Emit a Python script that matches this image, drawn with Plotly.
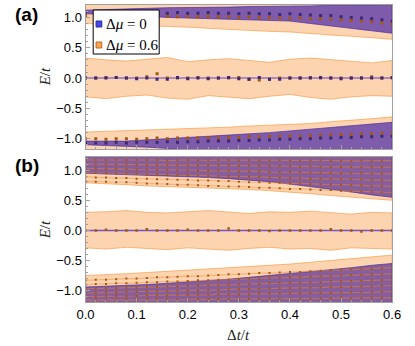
import plotly.graph_objects as go
from plotly.subplots import make_subplots

# sample grid (dots) and band grid
X = [0.00, 0.02, 0.04, 0.06, 0.08, 0.10, 0.12, 0.14, 0.16, 0.18, 0.20, 0.22, 0.24, 0.26, 0.28, 0.30,
     0.32, 0.34, 0.36, 0.38, 0.40, 0.42, 0.44, 0.46, 0.48, 0.50, 0.52, 0.54, 0.56, 0.58, 0.60]
XB = [0.00, 0.04, 0.08, 0.12, 0.16, 0.20, 0.24, 0.28, 0.32, 0.36, 0.40, 0.44, 0.48, 0.52, 0.56, 0.60]
ZERO_X = [0.0, 0.6]
ZERO_Y = [0.0, 0.0]

# ---- panel (a) bands
A_MID_HI = [0.33, 0.30, 0.28, 0.31, 0.34, 0.27, 0.30, 0.32, 0.29, 0.26, 0.31, 0.33, 0.30, 0.28, 0.25, 0.29]
A_MID_LO = [-0.31, -0.34, -0.30, -0.28, -0.33, -0.35, -0.29, -0.31, -0.34, -0.30, -0.27, -0.32, -0.35, -0.31, -0.29, -0.30]
A_UP_OR_LO = [0.90, 0.89, 0.88, 0.87, 0.86, 0.84, 0.82, 0.80, 0.79, 0.77, 0.76, 0.73, 0.71, 0.69, 0.66, 0.64]
A_UP_PU_LO = [1.06, 1.05, 1.03, 1.02, 1.00, 0.99, 0.98, 0.98, 0.97, 0.96, 0.94, 0.90, 0.86, 0.82, 0.78, 0.74]
A_UP_PU_HI = [1.12, 1.13, 1.14, 1.15, 1.16, 1.16, 1.17, 1.17, 1.18, 1.18, 1.19, 1.19, 1.20, 1.20, 1.21, 1.21]
A_DN_OR_HI = [-0.89, -0.88, -0.87, -0.86, -0.85, -0.84, -0.82, -0.81, -0.79, -0.78, -0.77, -0.75, -0.72, -0.70, -0.67, -0.64]
A_DN_PU_HI = [-1.04, -1.04, -1.04, -1.02, -1.00, -0.98, -0.96, -0.94, -0.92, -0.90, -0.87, -0.85, -0.82, -0.79, -0.76, -0.73]
A_DN_PU_LO = [-1.10, -1.11, -1.12, -1.14, -1.16, -1.19, -1.22, -1.25, -1.3, -1.3, -1.3, -1.3, -1.3, -1.3, -1.3, -1.3]

# ---- panel (a) points
A_DOT_PU_MID = [0.0, 0.0, 0.0, 0.01, 0.0, -0.01, 0.0, -0.02, -0.02, 0.01, -0.01, 0.0, -0.01, 0.0, 0.01, -0.01,
                -0.02, 0.01, -0.02, -0.02, 0.0, 0.0, 0.0, 0.01, 0.0, -0.01, 0.0, 0.0, 0.0, 0.0, 0.01]
A_DOT_OR_MID = [0.0, 0.0, 0.01, 0.01, 0.0, 0.0, 0.02, 0.07, 0.0, 0.0, 0.0, 0.01, 0.0, 0.0, 0.0, 0.01,
                -0.02, -0.03, -0.02, 0.0, 0.0, 0.0, 0.01, 0.0, 0.0, 0.0, 0.0, 0.0, 0.02, 0.0, 0.0]
A_DOT_PU_UP = [1.09, 1.08, 1.08, 1.09, 1.08, 1.07, 1.08, 1.08, 1.07, 1.08, 1.07, 1.07, 1.08, 1.07, 1.07, 1.06,
               1.07, 1.06, 1.06, 1.05, 1.06, 1.05, 1.04, 1.03, 1.03, 1.01, 1.00, 0.99, 0.98, 0.96, 0.94]
A_DOT_OR_UP = [1.03, 1.02, 1.02, 1.03, 1.02, 1.02, 1.01, 1.03, 1.02, 1.01, 1.02, 1.01, 1.02, 1.01, 1.01, 1.00,
               1.01, 1.00, 1.00, 0.99, 0.99, 0.99, 0.98, 0.98, 0.97, 0.96, 0.95, 0.94, 0.93, 0.91, 0.89]
A_DOT_OR_DN = [-1.00, -1.00, -1.01, -1.00, -1.00, -1.01, -1.00, -0.99, -1.00, -0.99, -0.99, -0.99, -0.98, -0.99, -0.98, -0.98,
               -0.97, -0.97, -0.96, -0.96, -0.95, -0.96, -0.95, -0.94, -0.94, -0.93, -0.93, -0.92, -0.92, -0.91, -0.91]
A_DOT_PU_DN = [-1.07, -1.07, -1.07, -1.06, -1.07, -1.06, -1.06, -1.06, -1.05, -1.06, -1.05, -1.05, -1.04, -1.04, -1.04, -1.03,
               -1.03, -1.02, -1.02, -1.01, -1.01, -1.00, -1.00, -0.99, -0.99, -0.98, -0.98, -0.97, -0.97, -0.96, -0.96]

# ---- panel (b) bands
B_MID_HI = [0.30, 0.31, 0.33, 0.30, 0.29, 0.31, 0.33, 0.30, 0.28, 0.31, 0.30, 0.32, 0.29, 0.27, 0.30, 0.29]
B_MID_LO = [-0.29, -0.31, -0.28, -0.30, -0.32, -0.29, -0.31, -0.33, -0.30, -0.28, -0.31, -0.30, -0.33, -0.29, -0.30, -0.31]
B_UP_OR_LO = [0.79, 0.78, 0.76, 0.74, 0.73, 0.72, 0.71, 0.70, 0.68, 0.66, 0.64, 0.61, 0.58, 0.55, 0.52, 0.50]
B_UP_PU_LO = [0.95, 0.94, 0.93, 0.92, 0.91, 0.90, 0.88, 0.86, 0.84, 0.81, 0.77, 0.73, 0.68, 0.64, 0.59, 0.55]
B_DN_OR_HI = [-0.75, -0.74, -0.72, -0.70, -0.68, -0.67, -0.65, -0.63, -0.61, -0.58, -0.56, -0.53, -0.50, -0.47, -0.44, -0.41]
B_DN_PU_HI = [-0.94, -0.93, -0.92, -0.90, -0.88, -0.86, -0.84, -0.81, -0.78, -0.75, -0.72, -0.69, -0.65, -0.62, -0.58, -0.55]

# ---- panel (b) levels (upper / lower) and zero-mode points
B_UP_LEVELS = [
    [1.17, 1.17, 1.17, 1.18, 1.17, 1.17, 1.17, 1.17, 1.16, 1.17, 1.17, 1.17, 1.16, 1.17, 1.17, 1.16,
     1.17, 1.16, 1.16, 1.17, 1.16, 1.16, 1.16, 1.17, 1.16, 1.16, 1.15, 1.16, 1.16, 1.16, 1.16],
    [1.10, 1.10, 1.10, 1.09, 1.10, 1.09, 1.09, 1.09, 1.09, 1.08, 1.09, 1.08, 1.08, 1.08, 1.08, 1.07,
     1.08, 1.07, 1.07, 1.07, 1.07, 1.06, 1.07, 1.06, 1.06, 1.06, 1.06, 1.05, 1.06, 1.05, 1.05],
    [1.03, 1.03, 1.02, 1.02, 1.02, 1.01, 1.01, 1.01, 1.01, 1.00, 1.00, 1.00, 0.99, 0.99, 0.99, 0.98,
     0.98, 0.98, 0.97, 0.97, 0.97, 0.97, 0.96, 0.96, 0.96, 0.95, 0.95, 0.95, 0.94, 0.94, 0.94],
    [0.96, 0.96, 0.95, 0.95, 0.94, 0.94, 0.93, 0.93, 0.93, 0.92, 0.92, 0.91, 0.91, 0.90, 0.90, 0.90,
     0.89, 0.89, 0.88, 0.88, 0.87, 0.87, 0.86, 0.86, 0.86, 0.85, 0.85, 0.84, 0.84, 0.83, 0.83],
    [0.89, 0.88, 0.88, 0.87, 0.87, 0.86, 0.86, 0.85, 0.85, 0.84, 0.84, 0.83, 0.83, 0.82, 0.82, 0.81,
     0.80, 0.80, 0.79, 0.79, 0.78, 0.78, 0.77, 0.77, 0.76, 0.76, 0.75, 0.75, 0.74, 0.74, 0.73],
    [0.82, 0.81, 0.81, 0.80, 0.80, 0.79, 0.78, 0.78, 0.77, 0.76, 0.76, 0.75, 0.74, 0.74, 0.73, 0.73,
     0.72, 0.71, 0.71, 0.70, 0.69, 0.69, 0.68, 0.67, 0.67, 0.66, 0.65, 0.65, 0.64, 0.63, 0.63],
]
B_DN_LEVELS = [
    [-0.83, -0.82, -0.82, -0.81, -0.80, -0.80, -0.79, -0.78, -0.78, -0.77, -0.76, -0.76, -0.75, -0.74, -0.73, -0.73,
     -0.72, -0.71, -0.71, -0.70, -0.69, -0.69, -0.68, -0.67, -0.66, -0.66, -0.65, -0.64, -0.64, -0.63, -0.62],
    [-0.90, -0.89, -0.89, -0.88, -0.88, -0.87, -0.86, -0.86, -0.85, -0.85, -0.84, -0.83, -0.83, -0.82, -0.82, -0.81,
     -0.80, -0.80, -0.79, -0.79, -0.78, -0.77, -0.77, -0.76, -0.76, -0.75, -0.74, -0.74, -0.73, -0.73, -0.72],
    [-0.97, -0.97, -0.96, -0.96, -0.95, -0.95, -0.94, -0.94, -0.93, -0.93, -0.92, -0.92, -0.91, -0.91, -0.90, -0.90,
     -0.89, -0.89, -0.88, -0.88, -0.87, -0.87, -0.86, -0.86, -0.85, -0.85, -0.84, -0.84, -0.83, -0.83, -0.82],
    [-1.04, -1.04, -1.03, -1.03, -1.02, -1.02, -1.02, -1.01, -1.01, -1.00, -1.00, -1.00, -0.99, -0.99, -0.98, -0.98,
     -0.98, -0.97, -0.97, -0.96, -0.96, -0.96, -0.95, -0.95, -0.94, -0.94, -0.94, -0.93, -0.93, -0.92, -0.92],
    [-1.10, -1.10, -1.09, -1.09, -1.09, -1.09, -1.08, -1.08, -1.08, -1.07, -1.07, -1.07, -1.07, -1.06, -1.06, -1.06,
     -1.06, -1.05, -1.05, -1.05, -1.05, -1.04, -1.04, -1.04, -1.04, -1.03, -1.03, -1.03, -1.03, -1.02, -1.02],
    [-1.16, -1.16, -1.16, -1.16, -1.15, -1.16, -1.15, -1.15, -1.15, -1.15, -1.15, -1.14, -1.15, -1.14, -1.14, -1.14,
     -1.14, -1.14, -1.13, -1.14, -1.13, -1.13, -1.13, -1.13, -1.13, -1.12, -1.13, -1.12, -1.12, -1.12, -1.12],
]
B_DOT_MID = [0.0, 0.0, 0.01, 0.0, 0.0, 0.0, 0.02, 0.0, 0.0, 0.0, 0.01, 0.0, 0.0, 0.0, 0.03, 0.0,
             0.0, 0.0, -0.01, 0.0, 0.0, 0.0, 0.0, 0.0, 0.02, 0.0, 0.0, -0.02, 0.0, 0.0, 0.0]

CAP = 1.4  # band edges beyond the visible range

OR_FILL = 'rgba(250,160,80,0.45)'
OR_EDGE = 'rgba(245,150,60,0.8)'
PU_FILL = 'rgba(95,60,170,0.8)'
PU_EDGE = 'rgba(80,50,160,0.9)'
OR_DOT = '#a65614'
PU_DOT = '#3a2878'

fig = make_subplots(rows=2, cols=1, shared_xaxes=True)


def band(lo, hi, fill, edge, row):
    fig.add_trace(go.Scatter(x=XB + XB[::-1], y=lo + hi[::-1], fill='toself', fillcolor=fill,
                             mode='lines', line=dict(color=edge, width=0.8), hoverinfo='skip'),
                  row=row, col=1)


def capped(edge_vals, cap, fill, edge, row):
    fig.add_trace(go.Scatter(x=XB + [XB[-1], XB[0]], y=edge_vals + [cap, cap], fill='toself', fillcolor=fill,
                             mode='lines', line=dict(color=edge, width=0.8), hoverinfo='skip'),
                  row=row, col=1)


def dots(y, color, row, size=3):
    fig.add_trace(go.Scatter(x=X, y=y, mode='markers', hoverinfo='skip',
                             marker=dict(symbol='square', size=size, color=color, line=dict(width=0))),
                  row=row, col=1)


# panel (a)
capped(A_UP_OR_LO, CAP, OR_FILL, OR_EDGE, 1)
band(A_MID_LO, A_MID_HI, OR_FILL, OR_EDGE, 1)
capped(A_DN_OR_HI, -CAP, OR_FILL, OR_EDGE, 1)
band(A_UP_PU_LO, A_UP_PU_HI, PU_FILL, PU_EDGE, 1)
band(A_DN_PU_LO, A_DN_PU_HI, PU_FILL, PU_EDGE, 1)
fig.add_trace(go.Scatter(x=ZERO_X, y=ZERO_Y, mode='lines', line=dict(color='rgba(120,90,200,0.6)', width=2)),
              row=1, col=1)
dots(A_DOT_OR_MID, OR_DOT, 1)
dots(A_DOT_PU_MID, PU_DOT, 1)
dots(A_DOT_OR_UP, OR_DOT, 1)
dots(A_DOT_PU_UP, PU_DOT, 1)
dots(A_DOT_OR_DN, OR_DOT, 1)
dots(A_DOT_PU_DN, PU_DOT, 1)

# panel (b)
capped(B_UP_OR_LO, CAP, OR_FILL, OR_EDGE, 2)
band(B_MID_LO, B_MID_HI, OR_FILL, OR_EDGE, 2)
capped(B_DN_OR_HI, -CAP, OR_FILL, OR_EDGE, 2)
capped(B_UP_PU_LO, CAP, 'rgba(105,62,150,0.8)', PU_EDGE, 2)
capped(B_DN_PU_HI, -CAP, 'rgba(105,62,150,0.8)', PU_EDGE, 2)
for lev in B_UP_LEVELS + B_DN_LEVELS:
    fig.add_trace(go.Scatter(x=X, y=lev, mode='lines+markers', hoverinfo='skip',
                             line=dict(color='rgba(240,140,50,0.45)', width=1.2),
                             marker=dict(symbol='square', size=2, color=OR_DOT)),
                  row=2, col=1)
fig.add_trace(go.Scatter(x=ZERO_X, y=ZERO_Y, mode='lines', line=dict(color='rgba(100,70,200,0.9)', width=1.5)),
              row=2, col=1)
dots(B_DOT_MID, OR_DOT, 2, size=2.5)

W, H = 415, 346
xdom = [80 / W, 400.5 / W]
axis_common = dict(showline=True, linecolor='#a0a0a0', linewidth=1, mirror=True,
                   ticks='inside', tickcolor='#a0a0a0', ticklen=4, showgrid=False, zeroline=False,
                   tickfont=dict(family='Liberation Sans', size=13, color='black'))

fig.update_xaxes(range=[0, 0.6], domain=xdom, dtick=0.1, tickformat='.1f',
                 minor=dict(dtick=0.02, ticklen=2, ticks='inside', tickcolor='#a0a0a0'), **axis_common)
fig.update_xaxes(showticklabels=False, row=1, col=1)
fig.update_yaxes(dtick=0.5, tickformat='.1f',
                 minor=dict(dtick=0.1, ticklen=2, ticks='inside', tickcolor='#a0a0a0'), **axis_common)
fig.update_yaxes(range=[-1.17, 1.205], domain=[1 - 149 / H, 1 - 5 / H], row=1, col=1)
fig.update_yaxes(range=[-1.19, 1.22], domain=[1 - 302 / H, 1 - 157 / H], row=2, col=1)


def px(x, y):
    return x / W, 1 - y / H


annotations = []
for lab, yy in [('(a)', 15), ('(b)', 165)]:
    ax, ay = px(4, yy)
    annotations.append(dict(text='<b>' + lab + '</b>', x=ax, y=ay, xref='paper', yref='paper',
                            xanchor='left', yanchor='middle', showarrow=False,
                            font=dict(family='Liberation Sans', size=19, color='black')))
for yy in [77, 230]:
    ax, ay = px(38, yy)
    annotations.append(dict(text='<i>E</i>/<i>t</i>', x=ax, y=ay, xref='paper', yref='paper',
                            textangle=-90, showarrow=False, xanchor='center', yanchor='middle',
                            font=dict(family='Liberation Serif', size=15, color='#222')))
ax, ay = px(240, 335)
annotations.append(dict(text='Δ<i>t</i>/<i>t</i>', x=ax, y=ay, xref='paper', yref='paper', showarrow=False,
                        xanchor='center', yanchor='middle',
                        font=dict(family='Liberation Serif', size=15, color='#222')))

# legend drawn as a framed box
lx0, ly0 = px(88, 54)
lx1, ly1 = px(157, 10)
shapes = [dict(type='rect', xref='paper', yref='paper', x0=lx0, y0=ly0, x1=lx1, y1=ly1,
               fillcolor='white', line=dict(color='black', width=1), layer='above')]
for (yc, fc, lc, txt) in [(24, '#4646e6', '#2a2aa0', 'Δ<i>μ</i> = 0'),
                          (45, '#f5a55a', '#b86a20', 'Δ<i>μ</i> = 0.6')]:
    sx0, sy0 = px(91, yc + 3)
    sx1, sy1 = px(97, yc - 3)
    shapes.append(dict(type='rect', xref='paper', yref='paper', x0=sx0, y0=sy0, x1=sx1, y1=sy1,
                       fillcolor=fc, line=dict(color=lc, width=1), layer='above'))
    tx, ty = px(99, yc)
    annotations.append(dict(text=txt, x=tx, y=ty, xref='paper', yref='paper', xanchor='left',
                            yanchor='middle', showarrow=False,
                            font=dict(family='Liberation Serif', size=15, color='black')))

fig.update_layout(width=W, height=H, margin=dict(l=0, r=0, t=0, b=0), autosize=False,
                  showlegend=False, plot_bgcolor='white', paper_bgcolor='white',
                  annotations=annotations, shapes=shapes)

fig.write_html("out.html", config={'displayModeBar': False},
               post_script="document.body.style.margin='0';")
